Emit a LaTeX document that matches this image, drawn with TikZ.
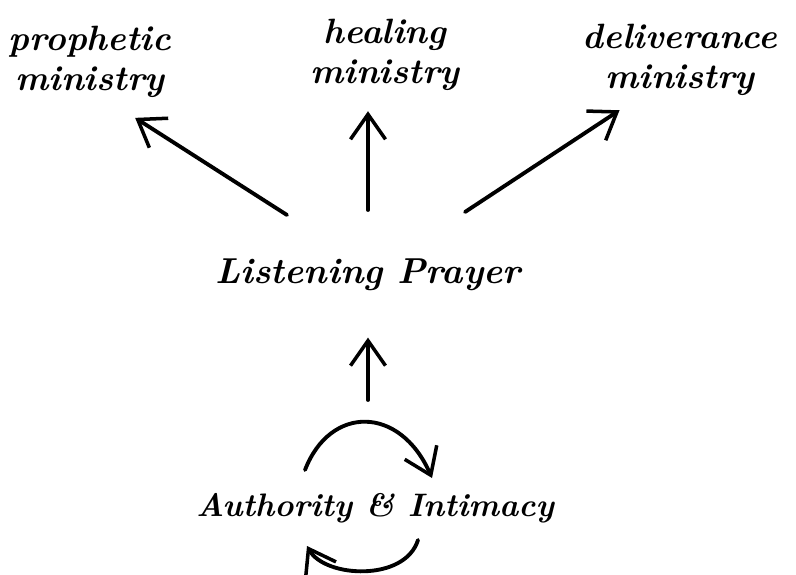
\documentclass[tikz,border=0pt]{standalone}
\usetikzlibrary{arrows.meta}
\begin{document}
\begin{tikzpicture}[x=0.02cm,y=-0.02cm,
    every node/.style={font=\fontsize{20}{23}\selectfont\bfseries\itshape, align=center},
    link/.style={line width=2.2pt, line cap=round,
        -{Straight Barb[length=5mm,width=7mm,line width=2pt]}}]

    \useasboundingbox (0,0) rectangle (796,575);

    % these are the labels
    \node (prophetic) at (90,62) {prophetic\\ministry};
    \node (healing) at (385,55) {healing\\ministry};
    \node (deliverance) at (680,60) {deliverance\\ministry};
    \node[font=\fontsize{20.5}{24}\selectfont\bfseries\itshape] (listening) at (368,275) {Listening Prayer};
    \node[font=\fontsize{18.5}{22}\selectfont\bfseries\itshape] (authority) at (375,508) {Authority \& Intimacy};

    % these are the free ends of the arrows
    \coordinate (lpleft) at (287,215);
    \coordinate (lpmid) at (368,210);
    \coordinate (lpright) at (465,212);
    \coordinate (aitop) at (368,400);
    \coordinate (loopa) at (305,470);
    \coordinate (loopb) at (432,478);
    \coordinate (loopc) at (418,540);
    \coordinate (loopd) at (307,546);

    \draw[link, shorten >=59pt] (lpleft) -- ([xshift=-24pt]prophetic.center);
    \draw[link, shorten >=8pt] (lpmid) -- (lpmid |- healing.south);
    \draw[link, shorten >=52pt] (lpright) -- ([xshift=9pt]deliverance.center);
    \draw[link, shorten >=23pt] (aitop) -- (aitop |- listening.south);

    \draw[link] (loopa) .. controls (330,405) and (400,405) .. (loopb);
    \draw[link] (loopc) .. controls (405,582) and (325,578) .. (loopd);

\end{tikzpicture}
\end{document}
